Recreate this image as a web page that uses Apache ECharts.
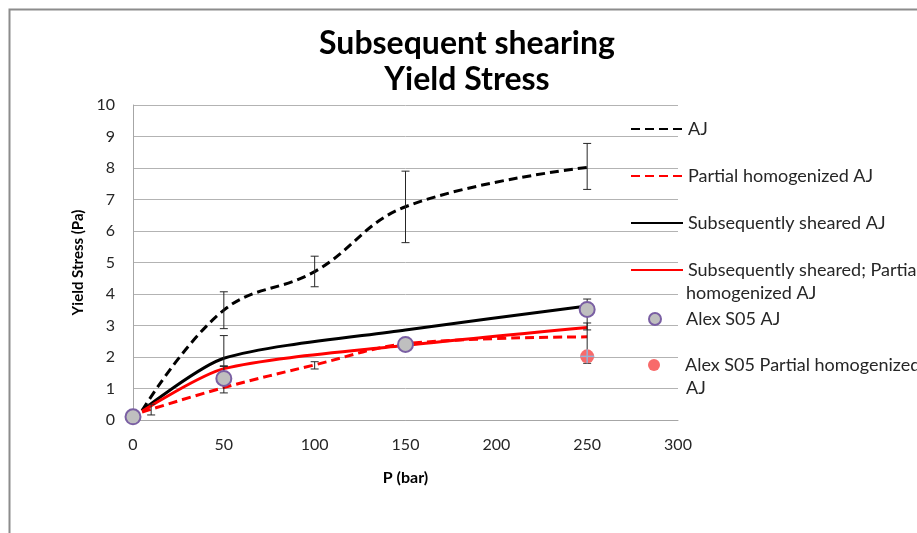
<!DOCTYPE html>
<html>
<head>
<meta charset="utf-8">
<script src="https://cdn.jsdelivr.net/npm/echarts@6/dist/echarts.min.js"></script>
<style>html,body{margin:0;padding:0;background:#fff}#c{width:917px;height:533px}</style>
</head>
<body>
<div id="c"></div>
<script>
// ---- data ----
var xTicks = [0, 50, 100, 150, 200, 250, 300];
var yTicks = [0, 1, 2, 3, 4, 5, 6, 7, 8, 9, 10];
var ajData = [[5, 0.3], [50, 3.49], [100, 4.71], [150, 6.77], [250, 8.02]];
var partialData = [[5, 0.25], [50, 1.03], [100, 1.75], [150, 2.42], [250, 2.64]];
var shearedData = [[5, 0.3], [50, 1.96], [150, 2.86], [250, 3.62]];
var shearedPartialData = [[5, 0.28], [50, 1.63], [150, 2.37], [250, 2.94]];
var alexAJ = [[0, 0.1], [50, 1.32], [150, 2.4], [250, 3.51]];
var alexPartial = [[250, 2.02]];
// error bars: [x, low, high]
var errBars = [
  [10, 0.16, 0.5],
  [50, 2.9, 4.07], [50, 1.72, 2.68], [50, 0.86, 1.7],
  [100, 4.23, 5.2], [100, 1.62, 1.85],
  [150, 5.63, 7.9],
  [250, 7.32, 8.78], [250, 1.8, 3.84], [250, 2.86, 3.08]
];
var names = ['AJ', 'Partial homogenized AJ', 'Subsequently sheared AJ',
  'Subsequently sheared; Partial homogenized AJ', 'Alex S05 AJ', 'Alex S05 Partial homogenized AJ'];
var legendFirstLine = ['AJ', 'Partial homogenized AJ', 'Subsequently sheared AJ',
  'Subsequently sheared; Partial', 'Alex S05 AJ', 'Alex S05 Partial homogenized'];
var legendSecondLine = ['', '', '', 'homogenized AJ', '', 'AJ'];

var FONT = 'Lato';
var legendCenters = [131, 178, 225, 272, 321, 367];
var isMarker = [false, false, false, false, true, true];

var chart = echarts.init(document.getElementById('c'), null, {renderer: 'canvas'});

var legends = names.map(function (n, i) {
  var lg = {
    data: [n],
    left: isMarker[i] ? 648 : 630,
    top: legendCenters[i] - 11,
    orient: 'vertical',
    padding: 0,
    itemWidth: 52,
    itemHeight: isMarker[i] ? 12 : 14,
    itemGap: 4,
    selectedMode: false,
    textStyle: {fontFamily: FONT, fontSize: 18, color: '#262626'},
    formatter: function () { return legendFirstLine[i]; }
  };
  if (!isMarker[i]) {
    lg.itemStyle = {color: 'transparent', borderWidth: 0, opacity: 0};
  }
  return lg;
});

var graphics = [{
  type: 'rect', left: 7, top: 7, shape: {x: 0, y: 0, width: 1000, height: 1000},
  style: {fill: 'none', stroke: '#8c8c8c', lineWidth: 2}, silent: true, z: -1
}];
legendSecondLine.forEach(function (t, i) {
  if (t) {
    graphics.push({
      type: 'text', left: 686, top: legendCenters[i] + 23 - 11,
      style: {text: t, fontFamily: FONT, fontSize: 18, fill: '#262626'}
    });
  }
});

function errRender(params, api) {
  var x = api.value(0), lo = api.value(1), hi = api.value(2);
  var pLo = api.coord([x, lo]), pHi = api.coord([x, hi]);
  var c = 4;
  var st = {stroke: '#262626', lineWidth: 1};
  return {
    type: 'group',
    children: [
      {type: 'line', shape: {x1: pLo[0], y1: pLo[1], x2: pHi[0], y2: pHi[1]}, style: st},
      {type: 'line', shape: {x1: pLo[0] - c, y1: pLo[1], x2: pLo[0] + c, y2: pLo[1]}, style: st},
      {type: 'line', shape: {x1: pHi[0] - c, y1: pHi[1], x2: pHi[0] + c, y2: pHi[1]}, style: st}
    ]
  };
}
function crossRender(params, api) {
  var p = api.coord([api.value(0), api.value(1)]);
  var c = 7;
  var st = {stroke: '#95b3d7', lineWidth: 1.5};
  return {
    type: 'group',
    children: [
      {type: 'line', shape: {x1: p[0] - c, y1: p[1], x2: p[0] + c, y2: p[1]}, style: st},
      {type: 'line', shape: {x1: p[0], y1: p[1] - c, x2: p[0], y2: p[1] + c}, style: st}
    ]
  };
}

var option = {
  animation: false,
  backgroundColor: '#fff',
  textStyle: {fontFamily: FONT},
  title: {
    text: 'Subsequent shearing\nYield Stress',
    left: 467, top: 26, textAlign: 'center', padding: 0,
    textStyle: {fontFamily: FONT, fontWeight: 'bold', fontSize: 32, lineHeight: 36, color: '#000'}
  },
  legend: legends,
  graphic: graphics,
  grid: {left: 133, right: 239, top: 105, bottom: 113, containLabel: false},
  xAxis: {
    type: 'value', min: 0, max: 300, interval: 50,
    name: 'P (bar)', nameLocation: 'middle', nameGap: 50,
    nameTextStyle: {fontFamily: FONT, fontWeight: 'bold', fontSize: 16, color: '#000'},
    axisLine: {show: true, lineStyle: {color: '#a6a6a6', width: 1}},
    axisTick: {show: false},
    axisLabel: {fontFamily: FONT, fontSize: 16, color: '#262626', margin: 17,
      formatter: function (v) { return xTicks.indexOf(v) >= 0 ? String(v) : ''; }},
    splitLine: {show: false}
  },
  yAxis: {
    type: 'value', min: 0, max: 10, interval: 1,
    name: 'Yield Stress (Pa)', nameLocation: 'middle', nameGap: 47, nameRotate: 90,
    nameTextStyle: {fontFamily: FONT, fontWeight: 'bold', fontSize: 15, color: '#000'},
    axisLine: {show: true, lineStyle: {color: '#a6a6a6', width: 1}},
    axisTick: {show: false},
    axisLabel: {fontFamily: FONT, fontSize: 16, color: '#262626', margin: 18,
      formatter: function (v) { return yTicks.indexOf(v) >= 0 ? String(v) : ''; }},
    splitLine: {show: true, lineStyle: {color: '#b3b3b3', width: 1}}
  },
  series: [
    {name: names[0], type: 'line', data: ajData, smooth: 0.4, symbol: 'none', z: 3,
      lineStyle: {color: '#000', width: 3, type: [9, 5]}, itemStyle: {color: '#000'}},
    {name: names[1], type: 'line', data: partialData, smooth: 0.35, symbol: 'none', z: 3,
      lineStyle: {color: '#ff0000', width: 3, type: [9, 5]}, itemStyle: {color: '#ff0000'}},
    {name: names[2], type: 'line', data: shearedData, smooth: 0.25, symbol: 'none', z: 3,
      lineStyle: {color: '#000', width: 3}, itemStyle: {color: '#000'}},
    {name: names[3], type: 'line', data: shearedPartialData, smooth: 0.25, symbol: 'none', z: 3,
      lineStyle: {color: '#ff0000', width: 3}, itemStyle: {color: '#ff0000'}},
    {name: 'errors', type: 'custom', data: errBars, renderItem: errRender, z: 4, silent: true,
      encode: {x: 0, y: [1, 2]}},
    {name: names[5], type: 'scatter', data: alexPartial, symbol: 'circle', symbolSize: 14, z: 5,
      itemStyle: {color: '#f86a6a', opacity: 1}},
    {name: 'cross', type: 'custom', data: alexPartial, renderItem: crossRender, z: 6, silent: true,
      encode: {x: 0, y: 1}},
    {name: names[4], type: 'scatter', data: alexAJ, symbol: 'circle', symbolSize: 15, z: 7,
      itemStyle: {color: '#bfbfbf', borderColor: '#7a5fa3', borderWidth: 2, opacity: 1}}
  ]
};
chart.setOption(option);
</script>
</body>
</html>
